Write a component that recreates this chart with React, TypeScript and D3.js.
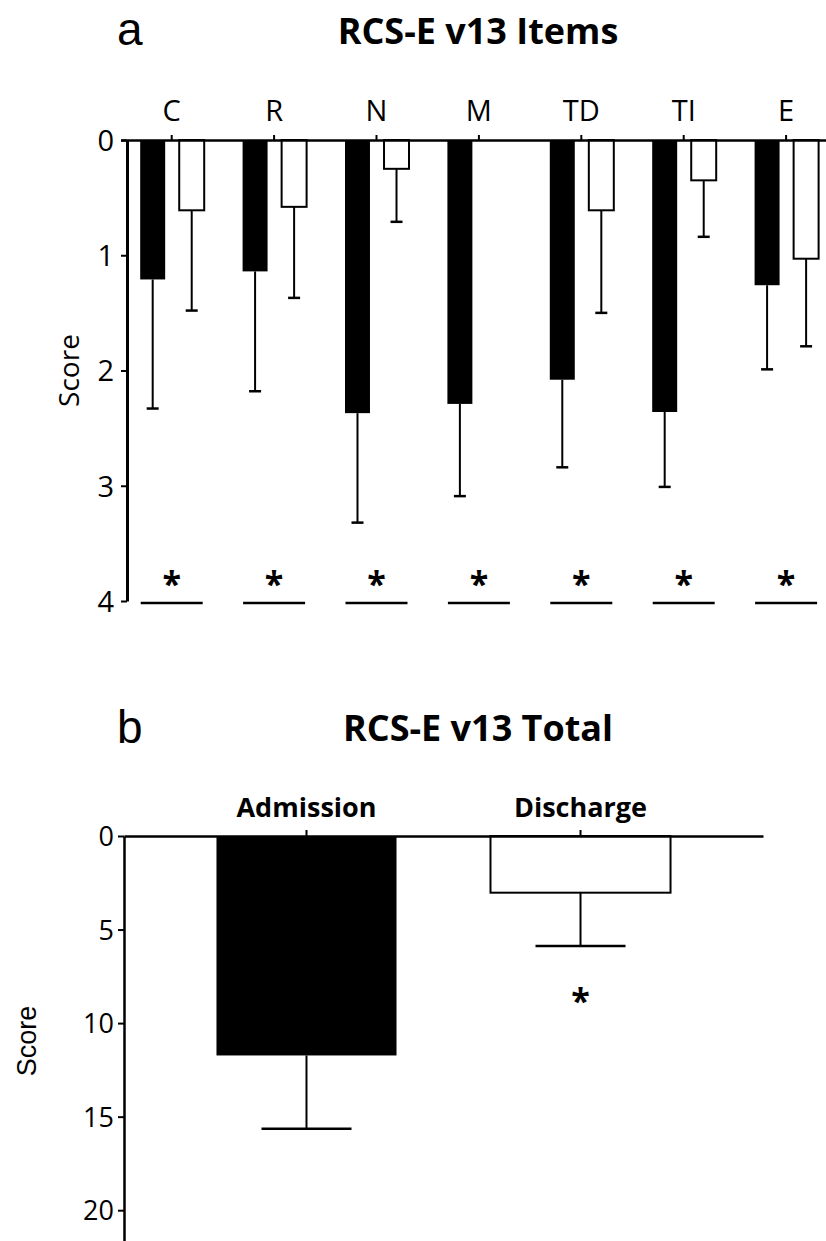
import { useEffect, useRef } from "react";
import * as d3 from "d3";

// panel a: RCS-E v13 items
const items = ["C", "R", "N", "M", "TD", "TI", "E"];
const groups = ["Admission", "Discharge"];
const admissionMean = [1.21, 1.14, 2.37, 2.29, 2.08, 2.36, 1.26];
const admissionSD = [1.12, 1.04, 0.95, 0.8, 0.76, 0.65, 0.73];
const dischargeMean = [0.61, 0.58, 0.25, 0, 0.61, 0.35, 1.03];
const dischargeSD = [0.87, 0.79, 0.46, 0, 0.89, 0.49, 0.76];
const itemTicks = [0, 1, 2, 3, 4];
const itemSigLevel = 4;

// panel b: RCS-E v13 total
const totalMean = [11.73, 3.03];
const totalSD = [3.92, 2.85];
const totalTicks = [0, 5, 10, 15, 20];
const totalSig = [false, true];
const totalSigLevel = 8.5;

const CAL = "'Open Sans', 'Liberation Sans', sans-serif";
const ARIAL = "'Liberation Sans', Arial, sans-serif";

export default function App() {
  const svgRef = useRef<SVGSVGElement>(null);

  useEffect(() => {
    const svg = d3.select(svgRef.current);
    svg.selectAll("*").remove();

    // ---------- panel a ----------
    const yA = d3.scaleLinear().domain([0, 4]).range([140, 601]);
    const xA = d3.scaleBand().domain(items).range([120.5, 837.3]);
    const xInner = d3
      .scaleBand()
      .domain(groups)
      .range([-31.5, 32.5])
      .paddingInner(0.36);

    const gA = svg.append("g");

    const rows = items.map((item, i) => [
      { item, group: groups[0], mean: admissionMean[i], sd: admissionSD[i] },
      { item, group: groups[1], mean: dischargeMean[i], sd: dischargeSD[i] },
    ]).flat();

    // error bars (only the lower half is shown)
    rows
      .filter((d) => d.sd > 0)
      .forEach((d) => {
        const cx = xA(d.item)! + xA.bandwidth() / 2 + xInner(d.group)! + xInner.bandwidth() / 2;
        const y0 = yA(d.mean);
        const y1 = yA(d.mean + d.sd);
        gA.append("line")
          .attr("x1", cx).attr("x2", cx)
          .attr("y1", y0).attr("y2", y1)
          .attr("stroke", "#000").attr("stroke-width", 2);
        gA.append("line")
          .attr("x1", cx - 6).attr("x2", cx + 6)
          .attr("y1", y1).attr("y2", y1)
          .attr("stroke", "#000").attr("stroke-width", 2.5);
      });

    gA.selectAll(".bar")
      .data(rows.filter((d) => d.mean > 0))
      .join("rect")
      .attr("class", "bar")
      .attr("x", (d) => xA(d.item)! + xA.bandwidth() / 2 + xInner(d.group)!)
      .attr("y", yA(0))
      .attr("width", xInner.bandwidth())
      .attr("height", (d) => yA(d.mean) - yA(0))
      .attr("fill", (d) => (d.group === "Admission" ? "#000" : "#fff"))
      .attr("stroke", "#000")
      .attr("stroke-width", (d) => (d.group === "Admission" ? 0 : 2));

    // significance markers
    items.forEach((item) => {
      const cx = xA(item)! + xA.bandwidth() / 2;
      gA.append("line")
        .attr("x1", cx - 31).attr("x2", cx + 31)
        .attr("y1", yA(itemSigLevel) + 2).attr("y2", yA(itemSigLevel) + 2)
        .attr("stroke", "#000").attr("stroke-width", 2.5);
      gA.append("text")
        .attr("x", cx).attr("y", yA(itemSigLevel) - 5)
        .attr("text-anchor", "middle")
        .attr("font-family", CAL).attr("font-weight", 700)
        .attr("font-size", 34)
        .text("*");
    });

    const yAxisA = gA.append("g")
      .attr("transform", "translate(127,0)")
      .call(d3.axisLeft(yA).tickValues(itemTicks).tickSize(6).tickSizeOuter(0).tickFormat(d3.format("d")));
    yAxisA.select(".domain").attr("stroke-width", 3);
    yAxisA.selectAll(".tick line").attr("stroke-width", 2);
    yAxisA.selectAll(".tick text")
      .attr("font-family", CAL).attr("font-size", 29).attr("fill", "#000")
      .attr("x", -13).attr("dy", "0.36em");

    const xAxisA = gA.append("g")
      .attr("transform", `translate(0,${yA(0)})`)
      .call(d3.axisTop(xA).tickSize(5).tickSizeOuter(0));
    xAxisA.select(".domain").attr("stroke-width", 2.5);
    xAxisA.selectAll(".tick line").attr("stroke-width", 2);
    xAxisA.selectAll(".tick text")
      .attr("font-family", CAL).attr("font-size", 29).attr("fill", "#000")
      .attr("y", -19);

    gA.append("text")
      .attr("transform", `translate(79,${(yA(0) + yA(4)) / 2}) rotate(-90)`)
      .attr("text-anchor", "middle")
      .attr("font-family", CAL).attr("font-size", 28)
      .text("Score");

    svg.append("text")
      .attr("x", 117).attr("y", 45)
      .attr("font-family", ARIAL).attr("font-size", 46)
      .text("a");
    svg.append("text")
      .attr("x", 478).attr("y", 44)
      .attr("text-anchor", "middle")
      .attr("font-family", CAL).attr("font-weight", 700).attr("font-size", 36)
      .text("RCS-E v13 Items");

    // ---------- panel b ----------
    const yB = d3.scaleLinear().domain([0, 21.7]).range([836, 1242]);
    const xB = d3.scaleBand().domain(groups).range([124, 763])
      .paddingInner(0.343).paddingOuter(0.3375);

    const gB = svg.append("g");
    groups.forEach((g, i) => {
      const cx = xB(g)! + xB.bandwidth() / 2;
      const y0 = yB(totalMean[i]);
      const y1 = yB(totalMean[i] + totalSD[i]);
      gB.append("line")
        .attr("x1", cx).attr("x2", cx).attr("y1", y0).attr("y2", y1)
        .attr("stroke", "#000").attr("stroke-width", 2);
      gB.append("line")
        .attr("x1", cx - xB.bandwidth() / 4).attr("x2", cx + xB.bandwidth() / 4)
        .attr("y1", y1).attr("y2", y1)
        .attr("stroke", "#000").attr("stroke-width", 2.5);
    });

    gB.selectAll(".bar")
      .data(groups)
      .join("rect")
      .attr("class", "bar")
      .attr("x", (g) => xB(g)!)
      .attr("y", yB(0))
      .attr("width", xB.bandwidth())
      .attr("height", (_, i) => yB(totalMean[i]) - yB(0))
      .attr("fill", (_, i) => (i === 0 ? "#000" : "#fff"))
      .attr("stroke", "#000")
      .attr("stroke-width", (_, i) => (i === 0 ? 0 : 2));

    groups.forEach((g, i) => {
      if (!totalSig[i]) return;
      gB.append("text")
        .attr("x", xB(g)! + xB.bandwidth() / 2)
        .attr("y", yB(totalSigLevel) + 18)
        .attr("text-anchor", "middle")
        .attr("font-family", CAL).attr("font-weight", 700).attr("font-size", 34)
        .text("*");
    });

    const yAxisB = gB.append("g")
      .attr("transform", "translate(124,0)")
      .call(d3.axisLeft(yB).tickValues(totalTicks).tickSize(6).tickSizeOuter(0));
    yAxisB.select(".domain").attr("stroke-width", 2.5);
    yAxisB.selectAll(".tick line").attr("stroke-width", 2);
    yAxisB.selectAll(".tick text")
      .attr("font-family", CAL).attr("font-size", 27).attr("fill", "#000")
      .attr("x", -10).attr("dy", "0.36em");

    const xAxisB = gB.append("g")
      .attr("transform", `translate(0,${yB(0)})`)
      .call(d3.axisTop(xB).tickSize(6).tickSizeOuter(0));
    xAxisB.select(".domain").attr("stroke-width", 2.5);
    xAxisB.selectAll(".tick line").attr("stroke-width", 2);
    xAxisB.selectAll(".tick text")
      .attr("font-family", CAL).attr("font-weight", 700).attr("font-size", 27).attr("fill", "#000")
      .attr("y", -19);

    gB.append("text")
      .attr("transform", `translate(36,1041) rotate(-90)`)
      .attr("text-anchor", "middle")
      .attr("font-family", ARIAL).attr("font-size", 27)
      .text("Score");

    svg.append("text")
      .attr("x", 117).attr("y", 743)
      .attr("font-family", ARIAL).attr("font-size", 46)
      .text("b");
    svg.append("text")
      .attr("x", 478).attr("y", 741)
      .attr("text-anchor", "middle")
      .attr("font-family", CAL).attr("font-weight", 700).attr("font-size", 36)
      .text("RCS-E v13 Total");
  }, []);

  return (
    <svg
      ref={svgRef}
      width={826}
      height={1241}
      style={{ position: "absolute", left: 0, top: 0, background: "#fff" }}
    />
  );
}
